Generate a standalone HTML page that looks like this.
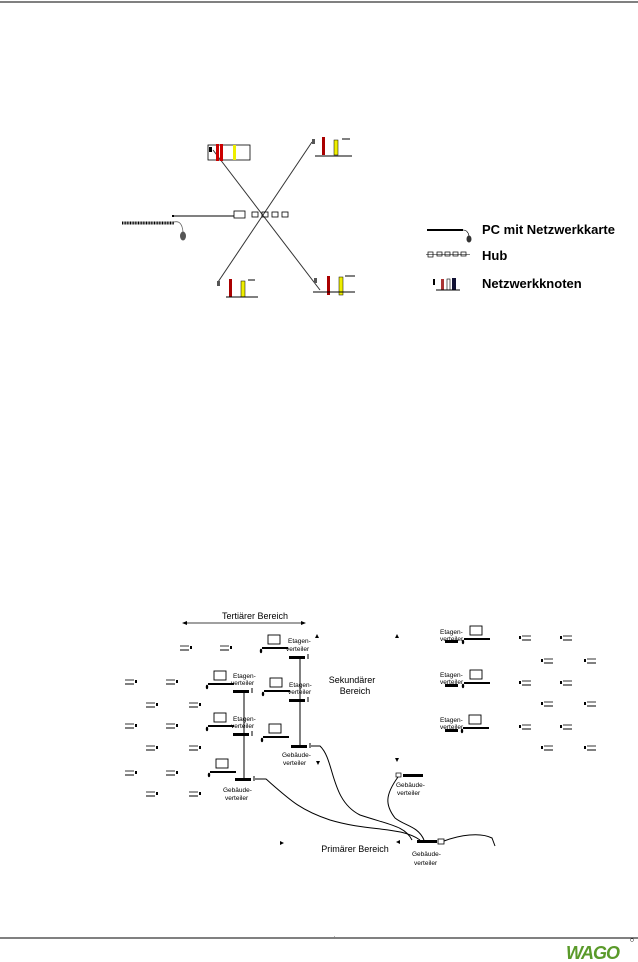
<!DOCTYPE html>
<html><head><meta charset="utf-8"><style>
body{margin:0;background:#fff}
svg{display:block;font-family:"Liberation Sans",sans-serif}
</style></head><body>
<svg width="638" height="962" viewBox="0 0 638 962" xmlns="http://www.w3.org/2000/svg">
<defs>
<g id="term"><line x1="0" y1="0" x2="9" y2="0" stroke="#000" stroke-width="0.8"/><line x1="0" y1="4" x2="9" y2="4" stroke="#000" stroke-width="1"/><rect x="10" y="0" width="2" height="3" fill="#000"/></g>
<g id="ws"><rect x="0" y="0" width="12" height="9" fill="none" stroke="#000" stroke-width="0.9"/><line x1="-6" y1="13" x2="20" y2="13" stroke="#000" stroke-width="2"/><ellipse cx="-7" cy="16" rx="1.2" ry="2.2" fill="#000"/></g>
<g id="sw"><rect x="0" y="0" width="16" height="3" fill="#000"/><line x1="19" y1="-2" x2="19" y2="3" stroke="#000"/></g>
</defs>
<line x1="0" y1="2" x2="638" y2="2" stroke="#000" stroke-width="1"/>

<!-- top diagram -->
<line x1="213" y1="150" x2="320" y2="290" stroke="#333" stroke-width="1"/>
<line x1="312" y1="142" x2="218" y2="282" stroke="#333" stroke-width="1"/>
<line x1="172" y1="216" x2="234" y2="216" stroke="#000" stroke-width="1"/>
<rect x="172" y="215" width="2" height="2" fill="#000"/>
<rect x="234" y="211" width="11" height="7" fill="none" stroke="#000" stroke-width="0.8"/>
<rect x="252" y="212" width="6" height="5" fill="none" stroke="#000" stroke-width="0.8"/>
<rect x="262" y="212" width="6" height="5" fill="none" stroke="#000" stroke-width="0.8"/>
<rect x="272" y="212" width="6" height="5" fill="none" stroke="#000" stroke-width="0.8"/>
<rect x="282" y="212" width="6" height="5" fill="none" stroke="#000" stroke-width="0.8"/>
<line x1="122" y1="223" x2="174" y2="223" stroke="#000" stroke-width="3" stroke-dasharray="1 0.6"/>
<path d="M174 222 Q182 220 183 232" fill="none" stroke="#666" stroke-width="0.8"/>
<ellipse cx="183" cy="236" rx="3" ry="4.5" fill="#555"/>
<!-- TL node -->
<rect x="208" y="145" width="42" height="15" fill="none" stroke="#000" stroke-width="0.8"/>
<rect x="216" y="144" width="3" height="17" fill="#c00"/><rect x="220" y="144" width="3" height="17" fill="#c00"/>
<rect x="233" y="145" width="3" height="15" fill="#ee0"/>
<rect x="209" y="147" width="3" height="5" fill="#000"/>
<!-- TR node -->
<rect x="312" y="139" width="3" height="5" fill="#555"/>
<rect x="322" y="137" width="3" height="18" fill="#a00"/>
<rect x="334" y="140" width="4" height="15" fill="#ee0" stroke="#000" stroke-width="0.5"/>
<line x1="315" y1="156" x2="352" y2="156" stroke="#000"/><line x1="342" y1="139" x2="350" y2="139" stroke="#000"/>
<!-- BL node -->
<rect x="217" y="281" width="3" height="5" fill="#555"/>
<rect x="229" y="279" width="3" height="18" fill="#a00"/>
<rect x="241" y="281" width="4" height="16" fill="#ee0" stroke="#000" stroke-width="0.5"/>
<line x1="226" y1="297" x2="258" y2="297" stroke="#000"/><line x1="248" y1="280" x2="255" y2="280" stroke="#000"/>
<!-- BR node -->
<rect x="314" y="278" width="3" height="5" fill="#555"/>
<rect x="327" y="276" width="3" height="19" fill="#a00"/>
<rect x="339" y="277" width="4" height="18" fill="#ee0" stroke="#000" stroke-width="0.5"/>
<line x1="313" y1="292" x2="355" y2="292" stroke="#000"/><line x1="345" y1="276" x2="355" y2="276" stroke="#000"/>
<!-- legend -->
<line x1="427" y1="230" x2="463" y2="230" stroke="#000" stroke-width="2"/>
<path d="M463 230 Q468 230 469 236" fill="none" stroke="#000" stroke-width="0.6"/>
<ellipse cx="469" cy="239" rx="2.5" ry="3.5" fill="#333"/>
<text x="482" y="234" font-size="13" font-weight="bold">PC mit Netzwerkkarte</text>
<rect x="428" y="252" width="5" height="5" fill="none" stroke="#000" stroke-width="0.7"/>
<line x1="426" y1="254.5" x2="470" y2="254.5" stroke="#000" stroke-width="0.5"/>
<rect x="437" y="252" width="5" height="4" fill="none" stroke="#000" stroke-width="0.7"/>
<rect x="445" y="252" width="5" height="4" fill="none" stroke="#000" stroke-width="0.7"/>
<rect x="453" y="252" width="5" height="4" fill="none" stroke="#000" stroke-width="0.7"/>
<rect x="461" y="252" width="5" height="4" fill="none" stroke="#000" stroke-width="0.7"/>
<text x="482" y="260" font-size="13" font-weight="bold">Hub</text>
<rect x="433" y="279" width="2" height="6" fill="#000"/>
<rect x="441" y="279" width="3" height="11" fill="#a33"/>
<rect x="447" y="279" width="3" height="11" fill="none" stroke="#000" stroke-width="0.6"/>
<rect x="452" y="278" width="4" height="12" fill="#113"/>
<line x1="436" y1="290" x2="460" y2="290" stroke="#000"/>
<text x="482" y="288" font-size="13" font-weight="bold">Netzwerkknoten</text>

<!-- bottom diagram -->
<g font-size="9">
<text x="255" y="619" text-anchor="middle" font-size="9">Tertiärer Bereich</text>
<line x1="184" y1="623" x2="304" y2="623" stroke="#000" stroke-width="0.8"/>
<path d="M182 623 l5 -2 v4z M306 623 l-5 -2 v4z" fill="#000"/>
<text x="352" y="683" text-anchor="middle">Sekundärer</text>
<text x="355" y="694" text-anchor="middle">Bereich</text>
<text x="355" y="852" text-anchor="middle">Primärer Bereich</text>
</g>
<g fill="#000">
<path d="M317 634 l-2 4 h4z M397 634 l-2 4 h4z M397 762 l-2 -4 h4z M318 765 l-2 -4 h4z M284 843 l-4 -2 v4z M396 842 l4 -2 v4z"/>
</g>
<!-- terminals -->
<use href="#term" x="180" y="646"/><use href="#term" x="220" y="646"/>
<use href="#term" x="125" y="680"/><use href="#term" x="166" y="680"/>
<use href="#term" x="146" y="703"/><use href="#term" x="189" y="703"/>
<use href="#term" x="125" y="724"/><use href="#term" x="166" y="724"/>
<use href="#term" x="146" y="746"/><use href="#term" x="189" y="746"/>
<use href="#term" x="125" y="771"/><use href="#term" x="166" y="771"/>
<use href="#term" x="146" y="792"/><use href="#term" x="189" y="792"/>
<g transform="translate(1092 0) scale(-1 1)">
<use href="#term" x="520" y="636"/><use href="#term" x="561" y="636"/>
<use href="#term" x="496" y="659"/><use href="#term" x="539" y="659"/>
<use href="#term" x="520" y="681"/><use href="#term" x="561" y="681"/>
<use href="#term" x="496" y="702"/><use href="#term" x="539" y="702"/>
<use href="#term" x="520" y="725"/><use href="#term" x="561" y="725"/>
<use href="#term" x="496" y="746"/><use href="#term" x="539" y="746"/>
</g>
<!-- workstations -->
<use href="#ws" x="268" y="635"/><use href="#ws" x="214" y="671"/>
<use href="#ws" x="270" y="678"/><use href="#ws" x="214" y="713"/>
<use href="#ws" x="269" y="724"/><use href="#ws" x="216" y="759"/>
<use href="#ws" x="470" y="626"/><use href="#ws" x="470" y="670"/><use href="#ws" x="469" y="715"/>
<!-- switches -->
<use href="#sw" x="289" y="656"/><use href="#sw" x="289" y="699"/>
<use href="#sw" x="233" y="690"/><use href="#sw" x="233" y="733"/>
<use href="#sw" x="291" y="745"/><use href="#sw" x="235" y="778"/>
<rect x="445" y="640" width="13" height="3" fill="#000"/>
<rect x="445" y="684" width="13" height="3" fill="#000"/>
<rect x="445" y="729" width="13" height="3" fill="#000"/>
<line x1="300" y1="658" x2="300" y2="746" stroke="#000"/>
<line x1="244" y1="692" x2="244" y2="779" stroke="#000"/>
<g font-size="6.5">
<text x="288" y="643">Etagen-</text><text x="286" y="651">verteiler</text>
<text x="289" y="687">Etagen-</text><text x="288" y="694">verteiler</text>
<text x="233" y="678">Etagen-</text><text x="231" y="685">verteiler</text>
<text x="233" y="721">Etagen-</text><text x="231" y="728">verteiler</text>
<text x="282" y="757">Gebäude-</text><text x="283" y="765">verteiler</text>
<text x="223" y="792">Gebäude-</text><text x="225" y="800">verteiler</text>
<text x="440" y="634">Etagen-</text><text x="440" y="641">verteiler</text>
<text x="440" y="677">Etagen-</text><text x="440" y="684">verteiler</text>
<text x="440" y="722">Etagen-</text><text x="440" y="729">verteiler</text>
<text x="396" y="787">Gebäude-</text><text x="397" y="795">verteiler</text>
<text x="412" y="856">Gebäude-</text><text x="414" y="865">verteiler</text>
</g>
<!-- right building hub -->
<rect x="396" y="773" width="5" height="4" fill="none" stroke="#000" stroke-width="0.7"/>
<rect x="403" y="774" width="20" height="3" fill="#000"/>
<!-- campus hub -->
<rect x="417" y="840" width="20" height="3" fill="#000"/>
<rect x="438" y="839" width="6" height="5" fill="none" stroke="#000" stroke-width="0.8"/>
<!-- cables -->
<g fill="none" stroke="#000" stroke-width="1">
<path d="M255 779 H266 C290 800 300 810 330 820 C370 832 400 826 420 840"/>
<path d="M311 746 H320 C335 760 330 800 360 815 C390 825 405 826 412 840"/>
<path d="M398 777 C385 795 385 805 395 818 C405 826 418 826 424 840"/>
<path d="M444 841 C460 835 480 832 492 838 L495 846"/>
</g>
<!-- footer -->
<line x1="0" y1="938" x2="638" y2="938" stroke="#000" stroke-width="1"/>
<text x="334" y="937" font-size="5">.</text>
<text x="566" y="959" font-size="18" font-weight="bold" font-style="italic" fill="#5a9a2a" letter-spacing="-1">WAGO</text>
<circle cx="632" cy="940" r="1.5" fill="none" stroke="#333" stroke-width="0.5"/>
</svg>
</body></html>
